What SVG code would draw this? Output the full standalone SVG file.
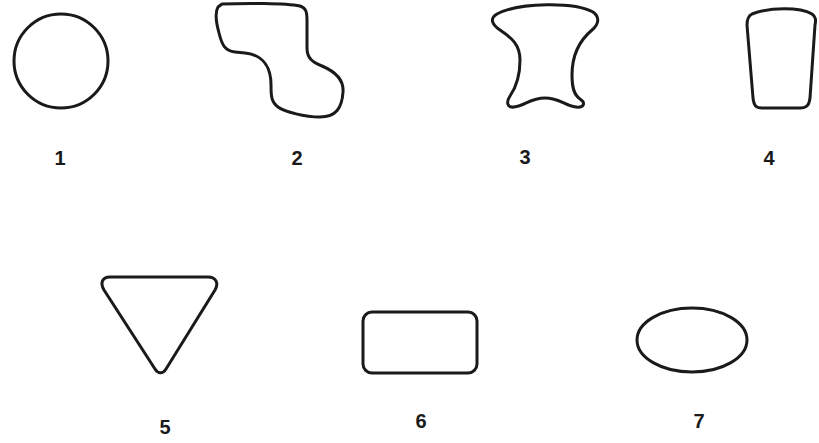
<svg xmlns="http://www.w3.org/2000/svg" width="819" height="443" viewBox="0 0 819 443">
<style>
.s{fill:none;stroke:#1a1a1a;stroke-width:3;stroke-linejoin:round}
.t{font-family:"Liberation Sans",Arial,sans-serif;font-weight:bold;font-size:20px;fill:#1a1a1a;text-anchor:middle}
</style>
<rect width="819" height="443" fill="#fff"/>
<g id="shape1"><circle class="s" cx="61" cy="61" r="47"/><text class="t" x="60" y="165">1</text></g>
<g id="shape2"><path class="s" d="M222,4 C245,3 285,3 300,6 C306,8 307,12 307,20 L307,48 C307,58 312,62 322,66 C336,72 344,80 343,92 C342,108 336,117 320,117 C305,117 285,112 278,107 C271,102 271,95 271,85 C271,70 265,55 245,53 L235,52 C225,51 222,45 219,33 C216,22 215,12 218,7 Z"/><text class="t" x="297" y="165">2</text></g>
<g id="shape3"><path class="s" d="M497,14 C520,2 575,2 593,12 C600,17 599,24 592,30 C580,40 572,55 572,75 C572,88 574,95 580,99 C586,103 584,108 576,107 C565,106 560,98 545,98 C530,98 525,106 514,107 C507,108 506,102 510,96 C517,86 520,75 520,60 C520,45 512,38 500,30 C491,24 490,18 497,14 Z"/><text class="t" x="525" y="164">3</text></g>
<g id="shape4"><path class="s" d="M752,14 C770,7 800,7 812,14 C816,17 816,20 815,25 L810,98 C809,106 806,108 800,108 L762,108 C756,108 754,106 753,98 L747,25 C747,19 748,16 752,14 Z"/><text class="t" x="769" y="165">4</text></g>
<g id="shape5"><path class="s" d="M110,277 L208,277 C216,277 219,283 215,290 L166,369 C163,374 158,374 155,369 L104,290 C100,283 102,277 110,277 Z"/><text class="t" x="165" y="434">5</text></g>
<g id="shape6"><rect class="s" x="363" y="312" width="114" height="61" rx="9"/><text class="t" x="421" y="428">6</text></g>
<g id="shape7"><ellipse class="s" cx="692" cy="340" rx="55" ry="32"/><text class="t" x="699" y="428">7</text></g>
</svg>
